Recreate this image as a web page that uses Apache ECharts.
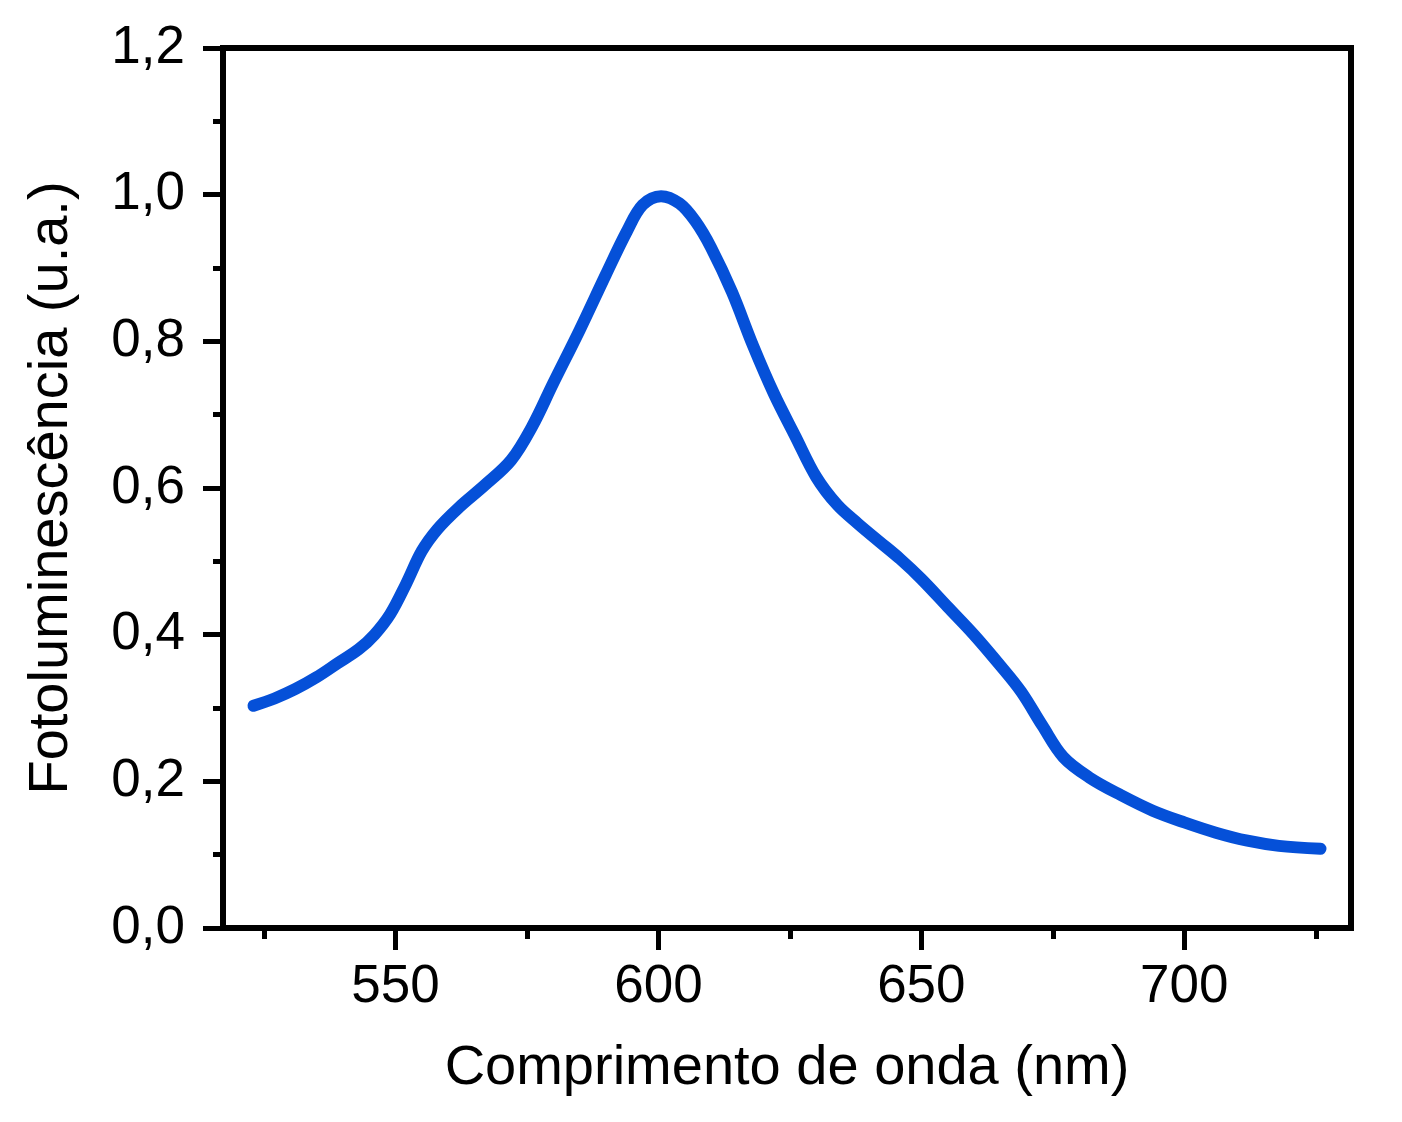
<!DOCTYPE html>
<html>
<head>
<meta charset="utf-8">
<script src="https://cdn.jsdelivr.net/npm/echarts@6/dist/echarts.min.js"></script>
<style>
  html, body { margin: 0; padding: 0; background: #fff; }
  #chart { width: 1402px; height: 1122px; }
</style>
</head>
<body>
<div id="chart"></div>
<script>
// espectro de fotoluminescencia
var wavelengths = [523, 527, 531, 535, 539, 543, 546, 549, 552, 555,
  558, 562, 567, 572, 576, 580, 585, 590, 594, 597,
  600.5, 604, 607, 610, 614, 618, 622, 626, 630, 634,
  638, 642, 646, 650, 655, 660, 665, 669, 673, 677,
  682, 688, 694, 700, 706, 712, 718, 725.9];
var intensities = [0.303, 0.313, 0.326, 0.342, 0.361, 0.380, 0.400, 0.428, 0.469, 0.514,
  0.544, 0.573, 0.604, 0.638, 0.684, 0.743, 0.815, 0.891, 0.950, 0.986,
  0.998, 0.988, 0.964, 0.928, 0.867, 0.794, 0.728, 0.671, 0.615, 0.577,
  0.551, 0.527, 0.503, 0.476, 0.438, 0.400, 0.358, 0.322, 0.276, 0.233,
  0.205, 0.181, 0.160, 0.144, 0.130, 0.119, 0.112, 0.108];

var xMajorTicks = [550, 600, 650, 700];
var xMinorTicks = [525, 575, 625, 675, 725];
var xMin = 517.2, xMax = 731.7;

var fontFam = '"Liberation Sans", Arial, sans-serif';

var seriesData = [];
for (var i = 0; i < wavelengths.length; i++) {
  seriesData.push([wavelengths[i], intensities[i]]);
}

var chart = echarts.init(document.getElementById('chart'));

var option = {
  animation: false,
  backgroundColor: '#fff',
  grid: {
    left: 223,
    right: 51,
    top: 48,
    bottom: 194,
    show: true,
    borderColor: '#000',
    borderWidth: 6,
    backgroundColor: 'transparent'
  },
  xAxis: [
    {
      type: 'value',
      position: 'bottom',
      min: xMin,
      max: xMax,
      name: 'Comprimento de onda (nm)',
      nameLocation: 'middle',
      nameGap: 113,
      nameTextStyle: { fontFamily: fontFam, fontSize: 56, color: '#000' },
      axisLine: { show: false },
      splitLine: { show: false },
      axisTick: {
        show: true,
        length: 22,
        customValues: xMajorTicks,
        lineStyle: { color: '#000', width: 5 }
      },
      axisLabel: {
        customValues: xMajorTicks,
        margin: 33,
        fontFamily: fontFam,
        fontSize: 53,
        color: '#000'
      }
    },
    {
      type: 'value',
      position: 'bottom',
      min: xMin,
      max: xMax,
      axisLine: { show: false },
      splitLine: { show: false },
      axisTick: {
        show: true,
        length: 11,
        customValues: xMinorTicks,
        lineStyle: { color: '#000', width: 5 }
      },
      axisLabel: { show: false }
    }
  ],
  yAxis: {
    type: 'value',
    min: 0,
    max: 1.2,
    interval: 0.2,
    name: 'Fotoluminescência (u.a.)',
    nameLocation: 'middle',
    nameGap: 143,
    nameTextStyle: { fontFamily: fontFam, fontSize: 56, color: '#000' },
    axisLine: { show: false },
    splitLine: { show: false },
    axisTick: {
      show: true,
      length: 20,
      lineStyle: { color: '#000', width: 5 }
    },
    minorTick: {
      show: true,
      splitNumber: 2,
      length: 10,
      lineStyle: { color: '#000', width: 5 }
    },
    axisLabel: {
      margin: 38,
      fontFamily: fontFam,
      fontSize: 53,
      color: '#000',
      formatter: function (v) {
        return v.toFixed(1).replace('.', ',');
      }
    }
  },
  series: [
    {
      type: 'line',
      data: seriesData,
      smooth: 0.35,
      showSymbol: false,
      lineStyle: { color: '#0550d8', width: 12, cap: 'round', join: 'round' }
    }
  ]
};

chart.setOption(option);
</script>
</body>
</html>
